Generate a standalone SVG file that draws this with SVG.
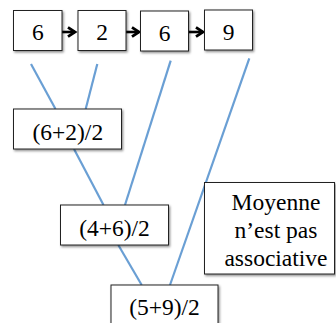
<svg xmlns="http://www.w3.org/2000/svg" width="336" height="323" viewBox="0 0 336 323">
<defs>
<filter id="sh" x="-10%" y="-10%" width="130%" height="140%">
<feDropShadow dx="1.2" dy="1.5" stdDeviation="0.8" flood-color="#000" flood-opacity="0.45"/>
</filter>
<marker id="ah" viewBox="0 0 10 10" refX="7" refY="5" markerWidth="4.5" markerHeight="4.5" orient="auto" markerUnits="strokeWidth">
<path d="M1,1 L7,5 L1,9" fill="none" stroke="#000" stroke-width="2.4"/>
</marker>
</defs>
<style>
.box{fill:#fff;stroke:#222;stroke-width:1;filter:url(#sh)}
.t{font-family:"Liberation Serif","Times New Roman",serif;font-size:23.5px;fill:#000;text-anchor:middle}
.ln{stroke:#6a9fd4;stroke-width:2.2;fill:none}
.ar{stroke:#000;stroke-width:2.6;fill:none;marker-end:url(#ah)}
</style>
<g id="connectors">
<line class="ln" x1="31" y1="64" x2="55.5" y2="109"/>
<line class="ln" x1="97.3" y1="64" x2="85.7" y2="109"/>
<line class="ln" x1="170.7" y1="60.7" x2="125" y2="205"/>
<line class="ln" x1="249.3" y1="58.3" x2="170" y2="285"/>
<line class="ln" x1="74" y1="149" x2="103.5" y2="205"/>
<line class="ln" x1="118.3" y1="245" x2="141.7" y2="285"/>
<line class="ar" x1="61" y1="32" x2="75" y2="32"/>
<line class="ar" x1="125" y1="32" x2="139" y2="32"/>
<line class="ar" x1="188" y1="32" x2="203" y2="32"/>
</g>
<g id="n1"><rect class="box" x="13.5" y="10.5" width="48.5" height="40"/><text class="t" x="37.8" y="40">6</text></g>
<g id="n2"><rect class="box" x="78" y="10.5" width="48" height="40"/><text class="t" x="102" y="40">2</text></g>
<g id="n3"><rect class="box" x="140.5" y="11" width="48" height="40"/><text class="t" x="164.5" y="40.5">6</text></g>
<g id="n4"><rect class="box" x="204.5" y="10" width="48" height="40"/><text class="t" x="228.5" y="39.5">9</text></g>
<g id="n5"><rect class="box" x="13.5" y="109" width="108" height="40"/><text class="t" x="67.8" y="139.5">(6+2)/2</text></g>
<g id="n6"><rect class="box" x="60.5" y="205" width="108" height="40"/><text class="t" x="114.5" y="235.5">(4+6)/2</text></g>
<g id="n7"><rect class="box" x="204.5" y="182.5" width="130" height="91.5"/><text class="t" x="276" y="210">Moyenne</text><text class="t" x="276" y="238">n’est pas</text><text class="t" x="276" y="265.5">associative</text></g>
<g id="n8"><rect class="box" x="111" y="285" width="107" height="45"/><text class="t" x="164.5" y="315">(5+9)/2</text></g>
</svg>
